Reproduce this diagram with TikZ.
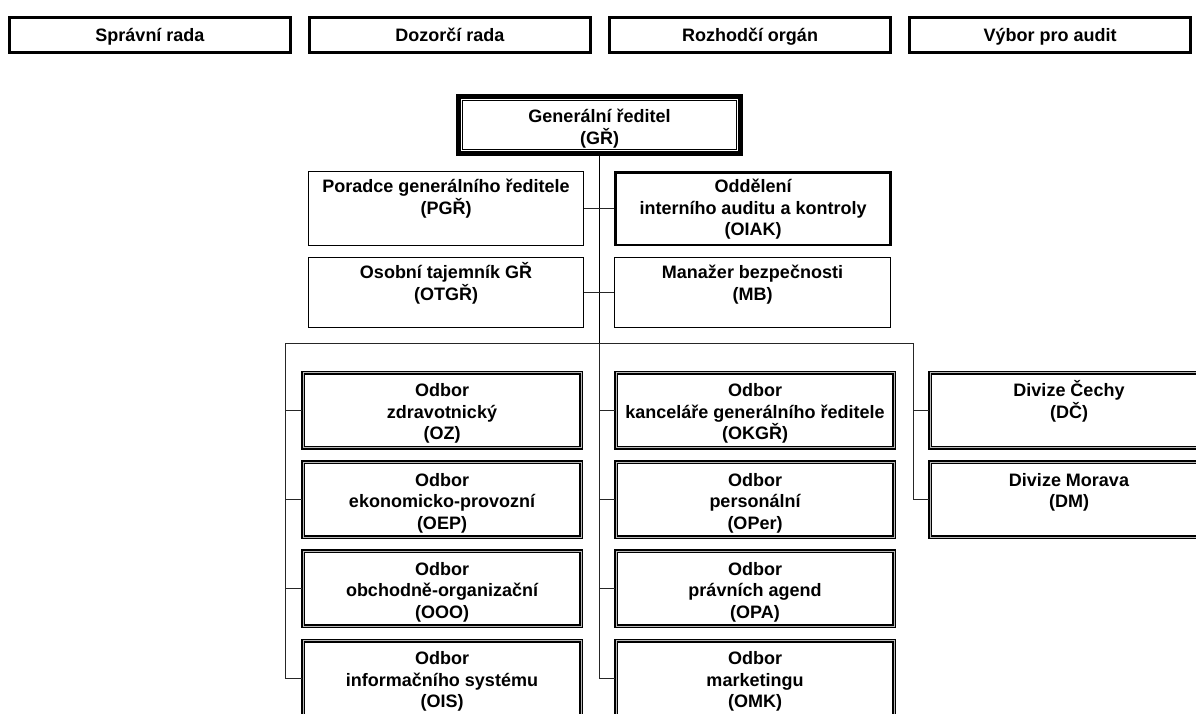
\documentclass[tikz,border=0pt]{standalone}
\usepackage{fontspec}
\setmainfont{Liberation Sans}
\usepackage{tikz}
\newcommand{\firstline}{\rule{0pt}{17pt}}
\tikzstyle{box}=[draw, inner sep=0, minimum width=275pt]
\tikzstyle{board}=[box, line width=3pt, minimum width=281pt, minimum height=35pt,
                   text height=15pt, text depth=2pt,
                   font=\bfseries\fontsize{18}{21.5}\selectfont]
\tikzstyle{chief}=[box, line width=4.5pt, minimum width=282pt, minimum height=57pt]
\tikzstyle{unit}=[box, line width=1pt]
\tikzstyle{keyunit}=[box, line width=2.5pt]
\tikzstyle{dept}=[box, line width=1.5pt, double=gray!55, double distance=1pt,
                  minimum width=278pt, minimum height=75pt]
\tikzstyle{txt}=[font=\bfseries\fontsize{18}{21.5}\selectfont, align=center, inner sep=0, anchor=north]
\tikzstyle{utxt}=[txt, yshift=-4.5pt]
\tikzstyle{dtxt}=[txt, yshift=-8pt]
\tikzstyle{ctxt}=[txt, yshift=-11.5pt]
\tikzstyle{link}=[line width=1pt, black!85]
\tikzstyle{orgchart}=[x=1pt, y=-1pt,
                      % pixel grid of the page, y going down
                      every label/.style={}]

\begin{document}
\begin{tikzpicture}[orgchart]
    \clip (0, 0) rectangle (1196, 713);
    % boards
    \node[board] (sr) at (150, 35) {Správní rada};
    \node[board] (dr) at (450, 35) {Dozorčí rada};
    \node[board] (ro) at (750, 35) {Rozhodčí orgán};
    \node[board] (vpa) at (1050, 35) {Výbor pro audit};
    % management
    \node[chief, label={[ctxt]above:{\firstline Generální ředitel\\(GŘ)}}] (gr) at (599.5, 125) {};
    \draw[line width=1pt] ([shift={(6.5, 6.5)}]gr.north west) rectangle ([shift={(-6.5, -6.5)}]gr.south east);
    \node[unit, minimum height=74pt, label={[utxt]above:{\firstline Poradce generálního ředitele\\(PGŘ)}}] (pgr) at (446, 208.5) {};
    \node[keyunit, minimum height=72.5pt, label={[utxt]above:{\firstline Oddělení\\interního auditu a kontroly\\(OIAK)}}] (oiak) at (753, 208.5) {};
    \node[unit, minimum height=70pt, label={[utxt]above:{\firstline Osobní tajemník GŘ\\(OTGŘ)}}] (otgr) at (446, 292.5) {};
    \node[unit, minimum height=70pt, minimum width=276pt, label={[utxt]above:{\firstline Manažer bezpečnosti\\(MB)}}] (mb) at (752.5, 292.5) {};
    % departments
    \node[dept, label={[dtxt]above:{\firstline Odbor\\zdravotnický\\(OZ)}}] (oz) at (442, 410) {};
    \node[dept, label={[dtxt]above:{\firstline Odbor\\ekonomicko-provozní\\(OEP)}}] (oep) at (442, 499.5) {};
    \node[dept, label={[dtxt]above:{\firstline Odbor\\obchodně-organizační\\(OOO)}}] (ooo) at (442, 588.5) {};
    \node[dept, label={[dtxt]above:{\firstline Odbor\\informačního systému\\(OIS)}}] (ois) at (442, 678) {};
    \node[dept, label={[dtxt]above:{\firstline Odbor\\kanceláře generálního ředitele\\(OKGŘ)}}] (okgr) at (755, 410) {};
    \node[dept, label={[dtxt]above:{\firstline Odbor\\personální\\(OPer)}}] (oper) at (755, 499.5) {};
    \node[dept, label={[dtxt]above:{\firstline Odbor\\právních agend\\(OPA)}}] (opa) at (755, 588.5) {};
    \node[dept, label={[dtxt]above:{\firstline Odbor\\marketingu\\(OMK)}}] (omk) at (755, 678) {};
    \node[dept, label={[dtxt]above:{\firstline Divize Čechy\\(DČ)}}] (dc) at (1069, 410) {};
    \node[dept, label={[dtxt]above:{\firstline Divize Morava\\(DM)}}] (dm) at (1069, 499.5) {};
    % bus
    \coordinate (busl) at (285, 343);
    \coordinate (busm) at (599.5, 343);
    \coordinate (busr) at (913, 343);
    \draw[link, line width=1.5pt, black] (gr) -- (busm);
    \draw[link] (busl) -- (busr);
    \draw[link] (pgr.east) -- (oiak.west);
    \draw[link] (otgr.east) -- (mb.west);
    \draw[link] (busl) |- (ois.west);
    \draw[link] (oz.west) -- (oz.west -| busl);
    \draw[link] (oep.west) -- (oep.west -| busl);
    \draw[link] (ooo.west) -- (ooo.west -| busl);
    \draw[link] (busm) |- (omk.west);
    \draw[link] (okgr.west) -- (okgr.west -| busm);
    \draw[link] (oper.west) -- (oper.west -| busm);
    \draw[link] (opa.west) -- (opa.west -| busm);
    \draw[link] (busr) |- (dm.west);
    \draw[link] (dc.west) -- (dc.west -| busr);
\end{tikzpicture}
\end{document}
